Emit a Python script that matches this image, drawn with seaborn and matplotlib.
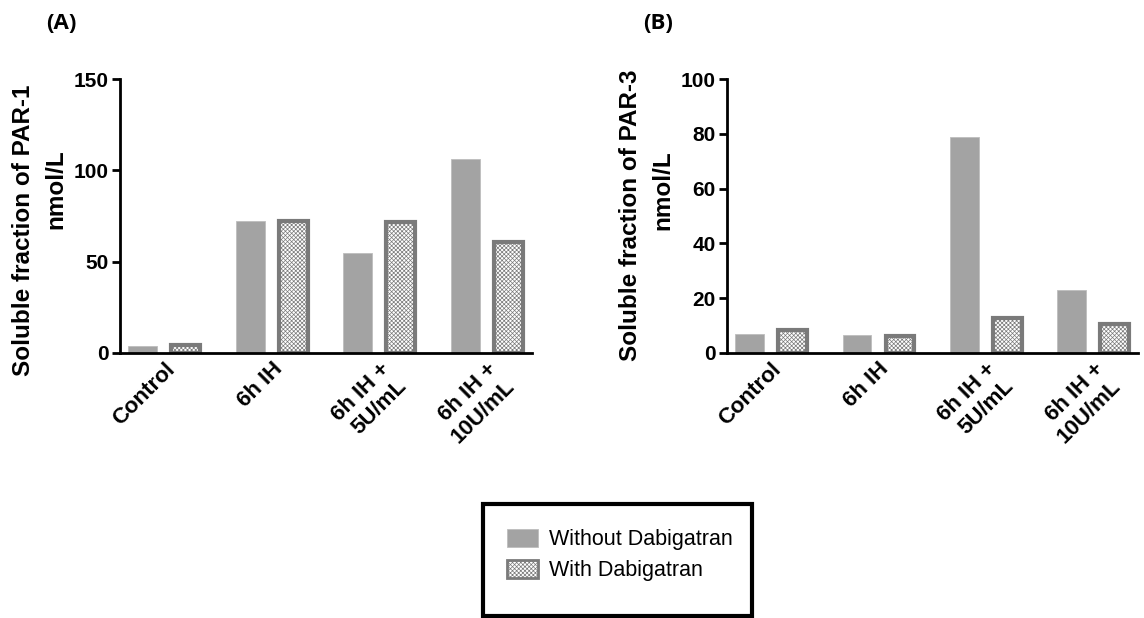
import pandas as pd
import matplotlib.pyplot as plt
import matplotlib.patches as mpatches
import seaborn as sns

# values
groups = ['Control', '6h IH', '6h IH +\n5U/mL', '6h IH +\n10U/mL']
treatments = ['Without Dabigatran', 'With Dabigatran']
par1_without = [3.5, 72, 54.5, 106]
par1_with = [4.5, 72, 71.5, 61]
par3_without = [7, 6.7, 79, 23]
par3_with = [8.4, 6.2, 12.7, 10.6]

def long_df(without, with_):
    return pd.DataFrame({
        'group': groups * 2,
        'treatment': [treatments[0]] * 4 + [treatments[1]] * 4,
        'value': without + with_,
    })

df_a = long_df(par1_without, par1_with)
df_b = long_df(par3_without, par3_with)

sns.set_style('ticks')
plt.rcParams['font.family'] = ['Liberation Sans', 'DejaVu Sans']
plt.rcParams['text.color'] = 'black'
plt.rcParams['xtick.color'] = 'black'
plt.rcParams['ytick.color'] = 'black'
plt.rcParams['hatch.linewidth'] = 0.5

solid = '#a3a3a3'
edge_dark = '#7a7a7a'

fig = plt.figure(figsize=(11.44, 6.18), dpi=100)
ax_a = fig.add_axes([0.105, 0.429, 0.360, 0.443])
ax_b = fig.add_axes([0.6355, 0.429, 0.3595, 0.443])


def draw_panel(ax, data, ymax, yticks, ylab, lab_y1, lab_y2):
    sns.barplot(data=data, x='group', y='value', hue='treatment', hue_order=treatments,
                order=groups, ax=ax, width=0.8, gap=0.33, legend=False,
                palette=[solid, 'white'])
    for bar in ax.containers[0]:
        bar.set_edgecolor('#bdbdbd')
        bar.set_linewidth(0.6)
    for bar in ax.containers[1]:
        bar.set_facecolor('white')
        bar.set_edgecolor(edge_dark)
        bar.set_linewidth(3)
        bar.set_hatch('xxxxxxxx')
    ax.set_ylim(0, ymax)
    ax.set_yticks(yticks)
    ax.set_xlim(-0.41, 3.42)
    sns.despine(ax=ax)
    for s in ['left', 'bottom']:
        ax.spines[s].set_linewidth(2)
        ax.spines[s].set_color('black')
    ax.tick_params(axis='y', length=6, width=2, labelsize=15, pad=2)
    ax.tick_params(axis='x', length=0, pad=4)
    for t in ax.get_yticklabels():
        t.set_fontweight('bold')
    ax.set_xticks(range(len(groups)))
    ax.set_xticklabels(groups, rotation=45, ha='right', va='top',
                       rotation_mode='anchor', fontweight='bold', fontsize=16)
    ax.set_xlabel('')
    ax.set_ylabel('')
    ax.text(-0.235, lab_y1, ylab, rotation=90, transform=ax.transAxes,
            ha='center', va='center', fontsize=17.5, fontweight='bold')
    ax.text(-0.157, lab_y2, 'nmol/L', rotation=90, transform=ax.transAxes,
            ha='center', va='center', fontsize=17.5, fontweight='bold')


draw_panel(ax_a, df_a, 150, [0, 50, 100, 150], 'Soluble fraction of PAR-1', 0.449, 0.599)
draw_panel(ax_b, df_b, 100, [0, 20, 40, 60, 80, 100], 'Soluble fraction of PAR-3', 0.504, 0.595)

fig.text(0.0535, 0.962, '(A)', fontsize=16, fontweight='bold', family=['Open Sans', 'DejaVu Sans'],
         ha='center', va='center')
fig.text(0.5755, 0.962, '(B)', fontsize=16, fontweight='bold', family=['Open Sans', 'DejaVu Sans'],
         ha='center', va='center')

# legend box
fig.patches.append(mpatches.Rectangle((0.4225, 0.004), 0.235, 0.181, transform=fig.transFigure,
                                      fill=False, edgecolor='black', linewidth=3))
handles = [
    mpatches.Patch(facecolor=solid, edgecolor='#bdbdbd', linewidth=0.6, label=treatments[0]),
    mpatches.Patch(facecolor='white', edgecolor=edge_dark, linewidth=2, hatch='xxxxxxxx',
                   label=treatments[1]),
]
fig.legend(handles=handles, loc='upper left', bbox_to_anchor=(0.4355, 0.158), frameon=False,
           fontsize=15.5, handlelength=1.45, handleheight=0.9, handletextpad=0.5,
           labelspacing=0.45, borderaxespad=0)

plt.savefig('out.png', dpi=100)
